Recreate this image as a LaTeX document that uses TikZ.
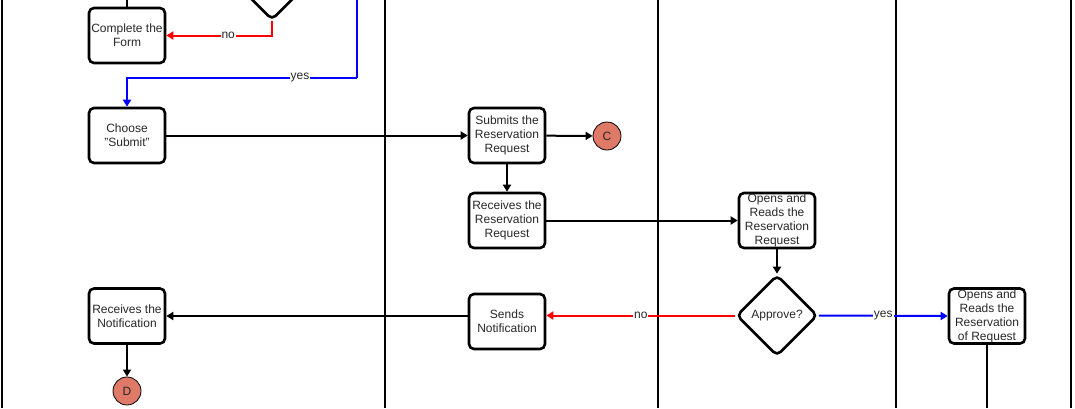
\documentclass[tikz,border=0pt]{standalone}
\usepackage{fontspec}
\setmainfont{Liberation Sans}
\usetikzlibrary{arrows.meta, shapes.geometric}

\definecolor{txtgrey}{RGB}{40,40,40}
\definecolor{connfill}{RGB}{224,122,104}

\tikzset{
  stepbox/.style={rectangle, draw, rounded corners=5pt, line width=2.6pt,
    minimum width=76pt, minimum height=55pt, inner sep=0pt,
    text width=76pt, align=flush center, text=txtgrey,
    font=\fontsize{12}{14}\selectfont},
  decide/.style={diamond, draw, rounded corners=5pt, line width=2.6pt,
    minimum width=81pt, minimum height=81pt, inner sep=0pt, aspect=1,
    text=txtgrey, font=\fontsize{12}{14}\selectfont},
  conn/.style={circle, draw, fill=connfill, line width=0.8pt, minimum size=28pt,
    inner sep=0pt, text=txtgrey, font=\fontsize{12}{14}\selectfont},
  lane/.style={line width=2pt},
  flow/.style={line width=2pt},
  lbl/.style={fill=white, inner sep=1pt, text=txtgrey, font=\fontsize{12}{14}\selectfont},
  >={Triangle[length=7pt, width=8pt]}
}

\begin{document}
\begin{tikzpicture}[x=1pt, y=-1pt, align=center]
\clip (0,0) rectangle (1075,408);
\fill[white] (0,0) rectangle (1075,408);

% swimlanes
\foreach \lx in {2, 385, 658, 896, 1071}
  \draw[lane] (\lx,0) -- (\lx,408);

\path (127, 35.5) node[stepbox] (complete) {Complete the Form}
      (272, -20.5) node[decide] (check) {}
      (127, 135.5) node[stepbox] (choose) {Choose\\ "Submit"}
      (507, 135.5) node[stepbox] (submits) {Submits the Reservation Request}
      (607, 136) node[conn] (c) {C}
      (507, 220.5) node[stepbox] (receives) {Receives the Reservation Request}
      (777, 220.5) node[stepbox] (opens) {Opens and Reads the Reservation Request}
      (777, 315.5) node[decide] (approve) {Approve?}
      (507, 321.5) node[stepbox] (sends) {Sends Notification}
      (127, 316) node[stepbox] (notified) {Receives the Notification}
      (127, 391) node[conn] (d) {D}
      (987, 316) node[stepbox] (opens2) {Opens and Reads the Reservation of Request};

\coordinate (topin) at (127, 0);
\coordinate (yesbend) at (357, 78);
\coordinate (bottomout) at (987, 408);

\draw[flow] (topin) -- (complete);
\draw[flow, red, ->] (check.south) |- node[lbl, pos=0.707] {no} (complete.east);
\draw[flow, blue] (check.east) -| (yesbend);
\draw[flow, blue, ->] (yesbend) -| node[lbl, pos=0.124] {yes} (choose.north);

\draw[flow, ->] (choose.east) -- (choose.east -| submits.west);
\draw[flow, ->] (submits) -- (c);
\draw[flow, ->] (submits) -- (receives);
\draw[flow, ->] (receives) -- (opens);
\draw[flow, ->] (opens) -- (approve);

\draw[flow, red, ->] (approve.west) -- node[lbl] {no} (approve.west -| sends.east);
\draw[flow, blue, ->] (approve.east) -- node[lbl] {yes} (opens2.west);
\draw[flow, ->] (notified.east -| sends.west) -- (notified.east);
\draw[flow, ->] (notified) -- (d);
\draw[flow] (opens2) -- (bottomout);
\end{tikzpicture}
\end{document}
